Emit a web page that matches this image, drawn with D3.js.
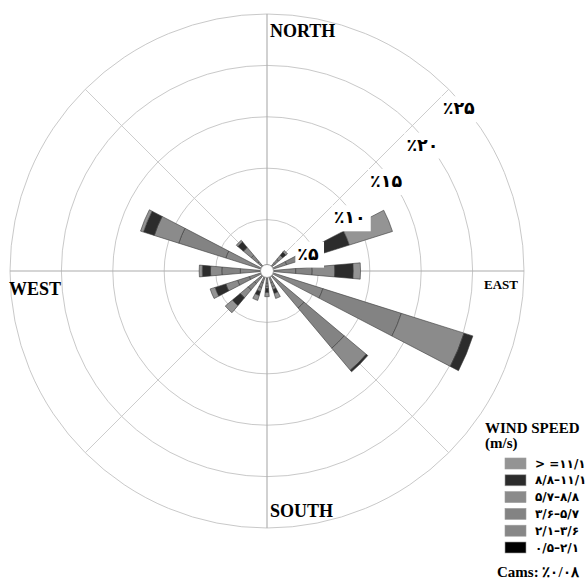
<!DOCTYPE html>
<html>
<head>
<meta charset="utf-8">
<script src="https://cdn.jsdelivr.net/npm/d3@7"></script>
<style>
  html, body { margin: 0; padding: 0; background: #fff; }
  svg { display: block; }
</style>
</head>
<body>
<script>
// Wind directions, clockwise from north
const directions = ["N","NNE","NE","ENE","E","ESE","SE","SSE","S","SSW","SW","WSW","W","WNW","NW","NNW"];

// Frequency (%) of each wind-speed class per direction
const spd_05_21  = [0, 0, 0.5, 0.5, 0.5, 0.5, 0.5, 0.5, 0.5, 0.5, 0.5, 0.5, 0.5, 0.5, 0.5, 0];
const spd_21_36  = [0, 0, 0.5, 1.5, 2.3, 5.2, 4.2, 0.7, 0.7, 0.7, 1.1, 1.3, 2.1, 3.7, 0.7, 0];
const spd_36_57  = [0, 0, 0.5, 1.4, 1.6, 8.0, 5.1, 0.4, 0.3, 0.5, 0.8, 1.2, 1.8, 4.8, 0.8, 0];
const spd_57_88  = [0, 0, 0.5, 1.7, 2.2, 6.4, 2.8, 0.3, 0.2, 0.4, 1.0, 1.2, 1.1, 2.5, 1.0, 0];
const spd_88_111 = [0, 0, 0.4, 3.3, 1.8, 0.9, 0.2, 0.4, 0.4, 0.4, 1.0, 1.1, 0.8, 1.1, 0.7, 0];
const spd_111_up = [0, 0, 0.2, 4.4, 0.7, 0.0, 0.0, 0.5, 0.4, 0.5, 0.9, 0.5, 0.3, 0.3, 0.2, 0];

// Speed classes from the centre outward
const classKeys   = ["c1", "c2", "c3", "c4", "c5", "c6"];
const classSeries = [spd_05_21, spd_21_36, spd_36_57, spd_57_88, spd_88_111, spd_111_up];
const classLabels = ["۰/۵–۲/۱", "۲/۱–۳/۶", "۳/۶–۵/۷", "۵/۷–۸/۸", "۸/۸–۱۱/۱", "> =۱۱/۱"];
const classColors = ["#000000", "#878787", "#838383", "#8b8b8b", "#2c2c2c", "#949494"];

// Radial rings (%) and their labels
const ringTicks  = [5, 10, 15, 20, 25];
const ringLabels = ["٪۵", "٪۱۰", "٪۱۵", "٪۲۰", "٪۲۵"];

const compassLabels = ["NORTH", "EAST", "SOUTH", "WEST"];
const legendTitle = ["WIND SPEED", "(m/s)"];
const calmsLabel = "Cams: ٪۰/۰۸";

// ---- layout ----
const W = 586, H = 579;
const cx = 267, cy = 271;
const R = 257;

const svg = d3.select("body").append("svg")
  .attr("width", W).attr("height", H);

const r = d3.scaleLinear().domain([0, 25]).range([0, R]);
const angle = d3.scaleLinear().domain([0, directions.length]).range([0, 2 * Math.PI]);
const halfWidth = 5 * Math.PI / 180;

const g = svg.append("g").attr("transform", `translate(${cx},${cy})`);

// ---- grid ----
const grid = g.append("g");
grid.selectAll("circle.ring").data(ringTicks).join("circle")
  .attr("class", "ring")
  .attr("r", d => r(d))
  .attr("fill", "none")
  .attr("stroke", "#c9c9c9")
  .attr("stroke-width", 1);

const spokeAngles = [0, 45, 90, 135, 180, 225, 270, 315];
grid.selectAll("line.spoke").data(spokeAngles).join("line")
  .attr("class", "spoke")
  .attr("x1", 0).attr("y1", 0)
  .attr("x2", d => r(25) * Math.sin(d * Math.PI / 180))
  .attr("y2", d => -r(25) * Math.cos(d * Math.PI / 180))
  .attr("stroke", d => d % 90 === 0 ? "#ababab" : "#cdcdcd")
  .attr("stroke-width", d => d % 90 === 0 ? 1.1 : 1);

// ---- petals ----
const table = directions.map((dir, i) => {
  const row = { dir, i };
  classKeys.forEach((k, j) => row[k] = classSeries[j][i]);
  return row;
});
const stacked = d3.stack().keys(classKeys)(table);

const arc = d3.arc();
const petals = g.append("g");
stacked.forEach((layer, j) => {
  petals.selectAll(null).data(layer.filter(d => d[1] - d[0] > 0)).join("path")
    .attr("d", d => arc({
      innerRadius: r(d[0]),
      outerRadius: r(d[1]),
      startAngle: angle(d.data.i) - halfWidth,
      endAngle: angle(d.data.i) + halfWidth
    }))
    .attr("fill", classColors[j])
    .attr("stroke", "#3a3a3a")
    .attr("stroke-width", 0.6);
});

// calm circle
g.append("circle").attr("r", 6.5)
  .attr("fill", "#fff").attr("stroke", "#9a9a9a").attr("stroke-width", 1);

// ---- ring labels along the NE diagonal ----
const ringG = g.append("g");
ringTicks.forEach((t, k) => {
  const px = r(t) * Math.SQRT1_2, py = -r(t) * Math.SQRT1_2;
  const lg = ringG.append("g");
  const rect = lg.append("rect").attr("fill", "#fff");
  const txt = lg.append("text")
    .attr("x", px - 6).attr("y", py + 25)
    .attr("font-family", "'DejaVu Sans', sans-serif")
    .attr("font-weight", "bold")
    .attr("font-size", 17.5)
    .attr("fill", "#000")
    .text(ringLabels[k]);
  const bb = txt.node().getBBox();
  rect.attr("x", bb.x - 2).attr("y", bb.y - 2)
    .attr("width", bb.width + 7).attr("height", bb.height + 6);
});

// ---- compass labels ----
const serif = "'Liberation Serif', 'Times New Roman', serif";
const comp = [
  { t: compassLabels[0], x: 270, y: 37, s: 18 },
  { t: compassLabels[1], x: 484, y: 289, s: 13 },
  { t: compassLabels[2], x: 270, y: 517, s: 18 },
  { t: compassLabels[3], x: 9, y: 295, s: 18 }
];
svg.selectAll("text.compass").data(comp).join("text")
  .attr("class", "compass")
  .attr("x", d => d.x).attr("y", d => d.y)
  .attr("font-family", serif).attr("font-weight", "bold")
  .attr("font-size", d => d.s)
  .text(d => d.t);

// ---- legend ----
const lg = svg.append("g");
lg.selectAll("text.title").data(legendTitle).join("text")
  .attr("class", "title")
  .attr("x", 485).attr("y", (d, i) => 433 + i * 15)
  .attr("font-family", serif).attr("font-weight", "bold")
  .attr("font-size", 15)
  .text(d => d);

const legendOrder = d3.range(classKeys.length).reverse();
const rowY = d3.scaleLinear().domain([0, 5]).range([458, 542]);
const rows = lg.selectAll("g.row").data(legendOrder).join("g")
  .attr("class", "row")
  .attr("transform", (d, i) => `translate(505,${rowY(i)})`);
rows.append("rect")
  .attr("width", 21).attr("height", 11)
  .attr("fill", d => classColors[d])
  .attr("stroke", "#9d9d9d").attr("stroke-width", 0.6);
rows.append("text")
  .attr("x", 30).attr("y", 9.5)
  .attr("font-family", "'DejaVu Sans', sans-serif")
  .attr("font-weight", "bold")
  .attr("font-size", 12)
  .attr("fill", "#000")
  .text(d => classLabels[d]);

lg.append("text")
  .attr("x", 497).attr("y", 577)
  .attr("font-family", serif).attr("font-weight", "bold")
  .attr("font-size", 15)
  .text(calmsLabel);
</script>
</body>
</html>
